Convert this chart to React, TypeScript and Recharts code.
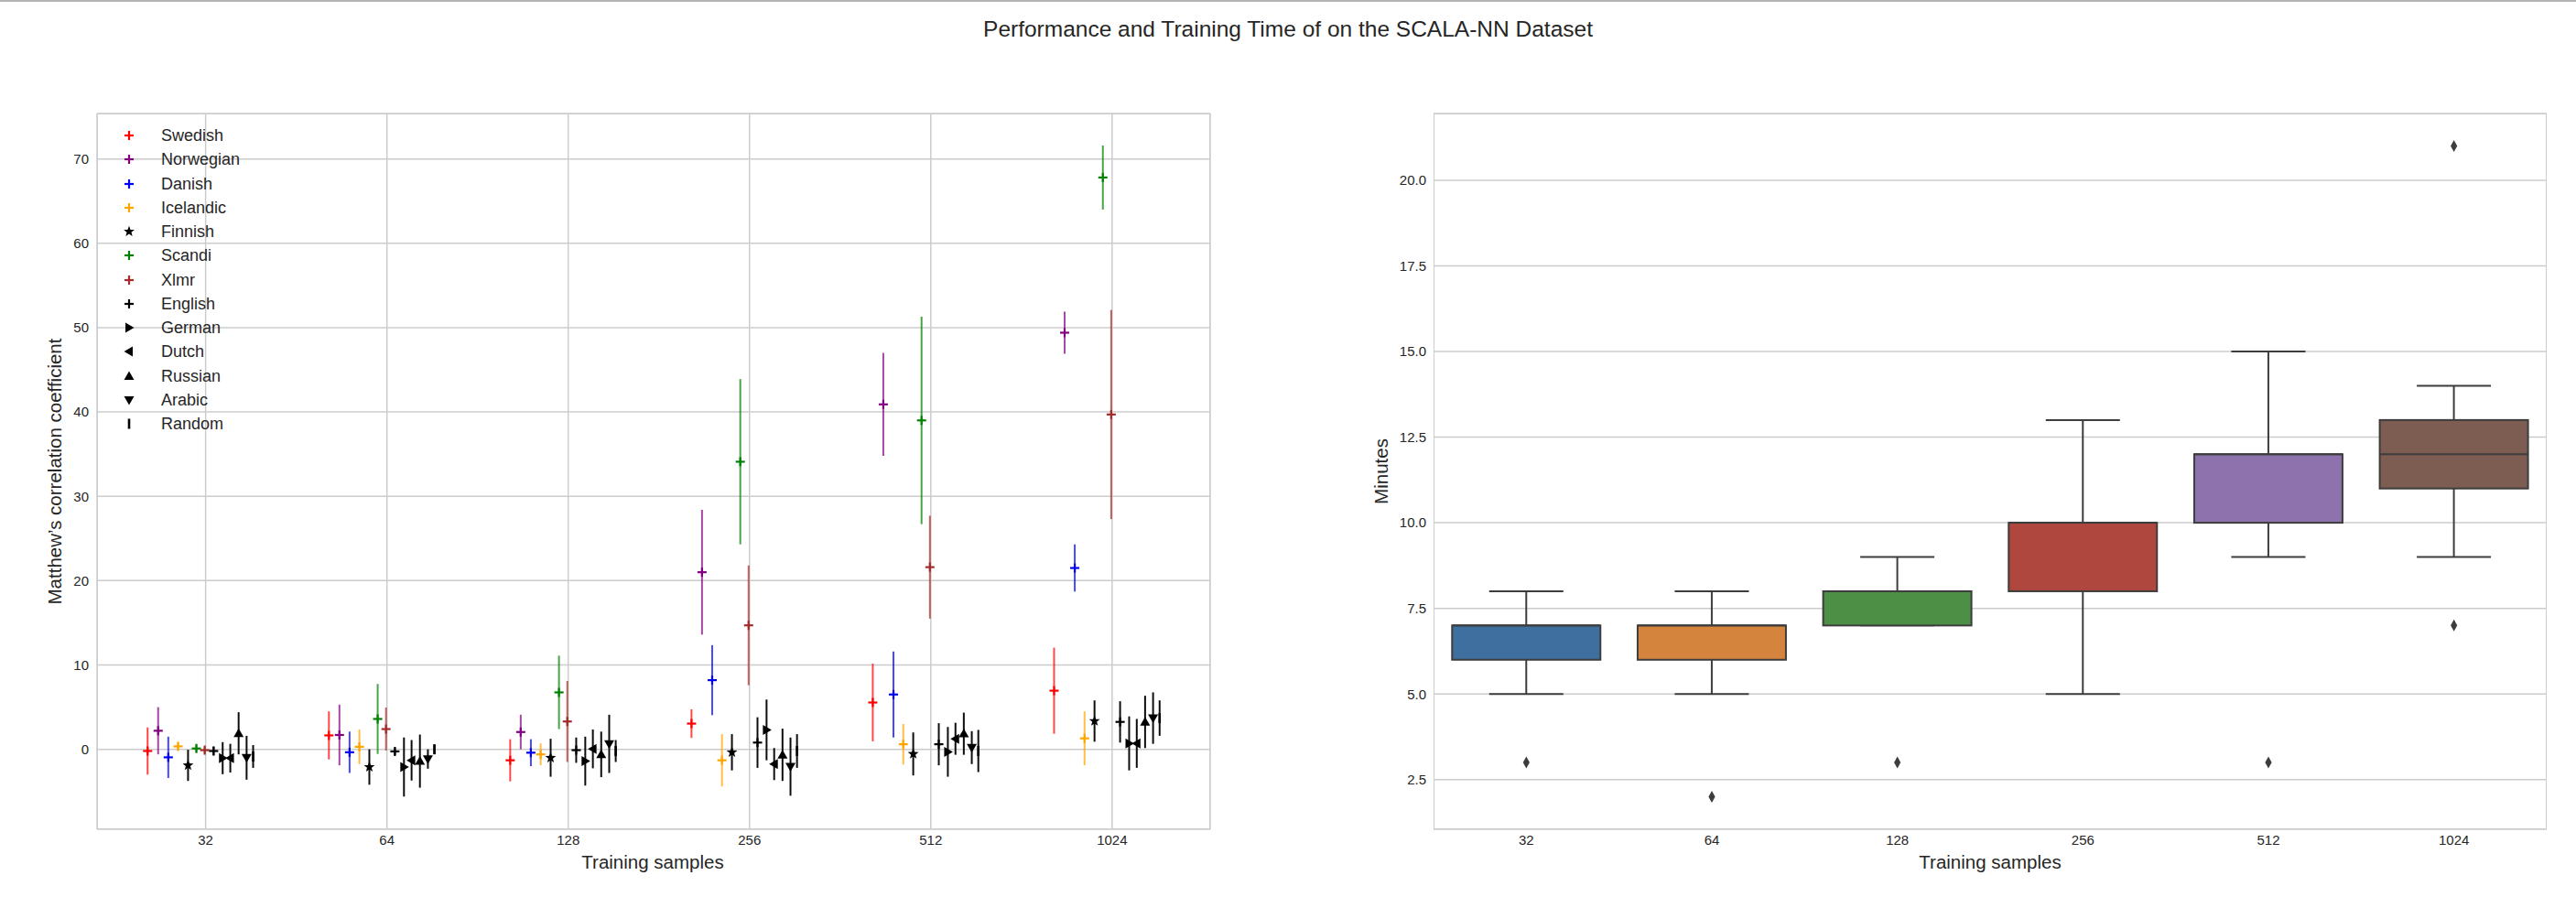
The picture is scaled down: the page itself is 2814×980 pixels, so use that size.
import React from 'react';
import {
  ScatterChart,
  Scatter,
  XAxis,
  YAxis,
  CartesianGrid,
  ErrorBar,
  ComposedChart,
  Bar,
  Line,
} from 'recharts';

// ---------- data ----------
const SAMPLES = ['32', '64', '128', '256', '512', '1024'];

const LANGUAGES = [
  'Swedish', 'Norwegian', 'Danish', 'Icelandic', 'Finnish', 'Scandi', 'Xlmr',
  'English', 'German', 'Dutch', 'Russian', 'Arabic', 'Random',
];

// mean Matthew's correlation coefficient per training-sample size
const SWEDISH = [-0.2, 1.65, -1.3, 3.05, 5.55, 6.95];
const NORWEGIAN = [2.2, 1.7, 2.05, 21.0, 40.9, 49.4];
const DANISH = [-0.95, -0.35, -0.4, 8.2, 6.5, 21.5];
const ICELANDIC = [0.35, 0.3, -0.6, -1.3, 0.6, 1.3];
const FINNISH = [-1.9, -2.1, -1.0, -0.35, -0.55, 3.35];
const SCANDI = [0.1, 3.6, 6.75, 34.1, 39.0, 67.8];
const XLMR = [-0.1, 2.4, 3.3, 14.7, 21.6, 39.7];
const ENGLISH = [-0.2, -0.25, -0.1, 0.8, 0.6, 3.25];
const GERMAN = [-1.05, -2.1, -1.4, 2.3, -0.3, 0.7];
const DUTCH = [-1.05, -1.3, 0.05, -1.75, 1.25, 0.7];
const RUSSIAN = [1.9, -1.4, -0.6, -0.65, 1.85, 3.25];
const ARABIC = [-1.0, -1.15, 0.65, -2.05, 0.2, 3.7];
const RANDOM = [-0.85, 0.0, -0.2, -0.2, -0.2, 3.7];

// error (standard deviation) per training-sample size
const SWEDISH_ERR = [2.8, 2.85, 2.5, 1.7, 4.6, 5.1];
const NORWEGIAN_ERR = [2.8, 3.6, 2.05, 7.4, 6.1, 2.5];
const DANISH_ERR = [2.45, 2.45, 1.6, 4.15, 5.1, 2.8];
const ICELANDIC_ERR = [0.45, 2.05, 1.3, 3.1, 2.4, 3.2];
const FINNISH_ERR = [1.85, 2.1, 2.25, 2.15, 2.55, 2.45];
const SCANDI_ERR = [0.4, 4.15, 4.35, 9.8, 12.3, 3.8];
const XLMR_ERR = [0.4, 2.55, 4.8, 7.1, 6.1, 12.4];
const ENGLISH_ERR = [0.5, 0.4, 1.5, 3.0, 2.5, 2.45];
const GERMAN_ERR = [1.9, 3.5, 2.9, 3.6, 2.95, 3.2];
const DUTCH_ERR = [1.7, 2.4, 2.3, 1.9, 1.9, 2.9];
const RUSSIAN_ERR = [2.5, 3.15, 2.7, 3.1, 2.5, 3.1];
const ARABIC_ERR = [2.6, 1.15, 3.45, 3.45, 1.95, 3.05];
const RANDOM_ERR = [1.35, 0.55, 1.3, 2.0, 2.5, 2.1];

const MEANS = [SWEDISH, NORWEGIAN, DANISH, ICELANDIC, FINNISH, SCANDI, XLMR, ENGLISH, GERMAN, DUTCH, RUSSIAN, ARABIC, RANDOM];
const ERRS = [SWEDISH_ERR, NORWEGIAN_ERR, DANISH_ERR, ICELANDIC_ERR, FINNISH_ERR, SCANDI_ERR, XLMR_ERR, ENGLISH_ERR, GERMAN_ERR, DUTCH_ERR, RUSSIAN_ERR, ARABIC_ERR, RANDOM_ERR];

// training time (minutes) box plot statistics
const WHISKER_LOW = [5, 5, 7, 5, 9, 9];
const Q1 = [6, 6, 7, 8, 10, 11];
const MEDIAN = [7, 7, 8, 10, 12, 12];
const Q3 = [7, 7, 8, 10, 12, 13];
const WHISKER_HIGH = [8, 8, 9, 13, 15, 14];
const OUTLIER_A = [3, 2, 3, null, 3, 7];
const OUTLIER_B = [null, null, null, null, null, 21];

const MCC_TICKS = [0, 10, 20, 30, 40, 50, 60, 70];
const MINUTE_TICKS = [2.5, 5, 7.5, 10, 12.5, 15, 17.5, 20];

// ---------- styles ----------
const FONT = '"Liberation Sans", Arial, Helvetica, sans-serif';
const TEXT = '#262626';
const GRID = '#cccccc';
const COLORS = ['#ff0000', '#800080', '#0000ff', '#ffa500', '#000000', '#008000', '#a52a2a', '#000000', '#000000', '#000000', '#000000', '#000000', '#000000'];
const MARKERS = ['plus', 'plus', 'plus', 'plus', 'star', 'plus', 'plus', 'plus', 'right', 'left', 'up', 'down', 'vline'];
const DODGE = [-0.32, -0.262, -0.206, -0.152, -0.097, -0.051, -0.005, 0.044, 0.094, 0.136, 0.182, 0.226, 0.262];
const BOX_COLORS = ['#3f6f9f', '#d5843e', '#4e8f46', '#b0473f', '#8d72ad', '#7d5c52'];
const BOX_EDGE = '#3d3d3d';

function starPath(cx: number, cy: number, R: number, r: number) {
  let d = '';
  for (let k = 0; k < 10; k++) {
    const rad = k % 2 === 0 ? R : r;
    const a = -Math.PI / 2 + (k * Math.PI) / 5;
    d += (k === 0 ? 'M' : 'L') + (cx + rad * Math.cos(a)).toFixed(2) + ',' + (cy + rad * Math.sin(a)).toFixed(2);
  }
  return d + 'Z';
}

function Marker({ kind, color, cx, cy }: { kind: string; color: string; cx: number; cy: number }) {
  if (cx == null || cy == null || isNaN(cx) || isNaN(cy)) return <g />;
  const s = 5;
  switch (kind) {
    case 'plus':
      return (
        <g stroke={color} strokeWidth={2.2}>
          <line x1={cx - s} x2={cx + s} y1={cy} y2={cy} />
          <line x1={cx} x2={cx} y1={cy - s} y2={cy + s} />
        </g>
      );
    case 'star':
      return <path d={starPath(cx, cy, 6.2, 2.6)} fill={color} />;
    case 'right':
      return <path d={`M${cx + 5.5},${cy}L${cx - 4},${cy - 5.5}L${cx - 4},${cy + 5.5}Z`} fill={color} />;
    case 'left':
      return <path d={`M${cx - 5.5},${cy}L${cx + 4},${cy - 5.5}L${cx + 4},${cy + 5.5}Z`} fill={color} />;
    case 'up':
      return <path d={`M${cx},${cy - 5.5}L${cx - 5.5},${cy + 4}L${cx + 5.5},${cy + 4}Z`} fill={color} />;
    case 'down':
      return <path d={`M${cx},${cy + 5.5}L${cx - 5.5},${cy - 4}L${cx + 5.5},${cy - 4}Z`} fill={color} />;
    case 'vline':
      return <line x1={cx} x2={cx} y1={cy - 5.5} y2={cy + 5.5} stroke={color} strokeWidth={2.6} />;
    default:
      return <g />;
  }
}

function BoxShape(props: any) {
  const { x, y, width, height, payload, index } = props;
  const lo = payload.lo;
  const hi = payload.hi;
  const py = (v: number) => y + (height * (hi - v)) / (hi - lo);
  const cx = x + width / 2;
  const capHalf = width / 4;
  const yQ1 = py(payload.q1);
  const yQ3 = py(payload.q3);
  const yMed = py(payload.med);
  const yLo = py(lo);
  const yHi = py(hi);
  return (
    <g stroke={BOX_EDGE} strokeWidth={2}>
      <line x1={cx} x2={cx} y1={yHi} y2={yQ3} />
      <line x1={cx} x2={cx} y1={yQ1} y2={yLo} />
      <line x1={cx - capHalf} x2={cx + capHalf} y1={yHi} y2={yHi} />
      <line x1={cx - capHalf} x2={cx + capHalf} y1={yLo} y2={yLo} />
      <rect x={x} y={yQ3} width={width} height={Math.max(yQ1 - yQ3, 0.5)} fill={BOX_COLORS[index]} />
      <line x1={x} x2={x + width} y1={yMed} y2={yMed} />
    </g>
  );
}

function Diamond(props: any) {
  const { cx, cy, value, index } = props;
  if (value == null || cy == null || isNaN(cy)) return <g key={`d-${index}`} />;
  return (
    <path
      key={`d-${index}`}
      d={`M${cx},${cy - 6.5}L${cx + 3.6},${cy}L${cx},${cy + 6.5}L${cx - 3.6},${cy}Z`}
      fill={BOX_EDGE}
    />
  );
}

const tickStyle = { fontSize: 15, fill: TEXT, fontFamily: FONT };

export default function App() {
  const series = LANGUAGES.map((name, i) => ({
    name,
    points: SAMPLES.map((_, g) => ({ x: g + DODGE[i], y: MEANS[i][g], e: ERRS[i][g] })),
  }));

  const boxData = SAMPLES.map((n, i) => ({
    n,
    span: [WHISKER_LOW[i], WHISKER_HIGH[i]],
    lo: WHISKER_LOW[i],
    q1: Q1[i],
    med: MEDIAN[i],
    q3: Q3[i],
    hi: WHISKER_HIGH[i],
    outA: OUTLIER_A[i],
    outB: OUTLIER_B[i],
  }));

  return (
    <div
      style={{
        position: 'absolute',
        left: 0,
        top: 0,
        width: 2814,
        height: 980,
        background: '#ffffff',
        fontFamily: FONT,
        color: TEXT,
        overflow: 'hidden',
      }}
    >
      <div style={{ position: 'absolute', left: 0, top: 0, width: 2814, height: 2, background: '#b4b4b4' }} />
      <div
        style={{
          position: 'absolute',
          left: 0,
          width: 2814,
          top: 18,
          textAlign: 'center',
          fontSize: 24.5,
          lineHeight: '28px',
        }}
      >
        Performance and Training Time of on the SCALA-NN Dataset
      </div>

      {/* ---------- left: MCC scatter with error bars ---------- */}
      <div style={{ position: 'absolute', left: 0, top: 0 }}>
        <ScatterChart width={1340} height={980} margin={{ top: 124, right: 18, bottom: 34, left: 46 }}>
          <CartesianGrid stroke={GRID} strokeWidth={1.5} />
          <XAxis
            type="number"
            dataKey="x"
            domain={[-0.599, 5.541]}
            ticks={[0, 1, 2, 3, 4, 5]}
            tickFormatter={(v: number) => SAMPLES[Math.round(v)]}
            allowDataOverflow
            interval={0}
            axisLine={false}
            tickLine={false}
            tickSize={0}
            tickMargin={6}
            height={40}
            tick={tickStyle}
          />
          <YAxis
            type="number"
            dataKey="y"
            domain={[-9.48, 75.39]}
            ticks={MCC_TICKS}
            allowDataOverflow
            interval={0}
            axisLine={false}
            tickLine={false}
            tickSize={0}
            tickMargin={9}
            width={60}
            tick={tickStyle}
          />
          {series.map((s, i) => (
            <Scatter
              key={s.name}
              name={s.name}
              data={s.points}
              isAnimationActive={false}
              shape={(p: any) => <Marker kind={MARKERS[i]} color={COLORS[i]} cx={p.cx} cy={p.cy} />}
            >
              <ErrorBar
                dataKey="e"
                direction="y"
                width={0}
                stroke={COLORS[i]}
                strokeWidth={2}
                strokeOpacity={COLORS[i] === '#000000' ? 0.95 : 0.72}
                isAnimationActive={false}
              />
            </Scatter>
          ))}
        </ScatterChart>
      </div>
      <div
        style={{
          position: 'absolute',
          left: 106,
          top: 124,
          width: 1216,
          height: 782,
          boxSizing: 'border-box',
          border: `1.5px solid ${GRID}`,
          pointerEvents: 'none',
        }}
      />
      {/* legend */}
      <div style={{ position: 'absolute', left: 128, top: 135 }}>
        {LANGUAGES.map((name, i) => (
          <div key={name} style={{ display: 'flex', alignItems: 'center', height: 26.25 }}>
            <svg width={26} height={26} style={{ display: 'block' }}>
              <Marker kind={MARKERS[i]} color={COLORS[i]} cx={13} cy={13} />
            </svg>
            <span style={{ marginLeft: 22, fontSize: 18, lineHeight: '26px' }}>{name}</span>
          </div>
        ))}
      </div>
      <div
        style={{
          position: 'absolute',
          left: 60 - 200,
          top: 515 - 12,
          width: 400,
          height: 24,
          lineHeight: '24px',
          textAlign: 'center',
          fontSize: 20.5,
          transform: 'rotate(-90deg)',
          transformOrigin: '200px 12px',
        }}
      >
        Matthew’s correlation coefficient
      </div>
      <div
        style={{
          position: 'absolute',
          left: 713 - 200,
          top: 942 - 12,
          width: 400,
          lineHeight: '24px',
          textAlign: 'center',
          fontSize: 20.5,
        }}
      >
        Training samples
      </div>

      {/* ---------- right: training time box plot ---------- */}
      <div style={{ position: 'absolute', left: 1440, top: 0 }}>
        <ComposedChart
          width={1374}
          height={980}
          data={boxData}
          margin={{ top: 124, right: 32, bottom: 34, left: 56 }}
          barCategoryGap="10%"
        >
          <CartesianGrid vertical={false} stroke={GRID} strokeWidth={1.5} />
          <XAxis
            dataKey="n"
            type="category"
            interval={0}
            axisLine={false}
            tickLine={false}
            tickSize={0}
            tickMargin={6}
            height={40}
            tick={tickStyle}
          />
          <YAxis
            type="number"
            domain={[1.05, 21.95]}
            ticks={MINUTE_TICKS}
            tickFormatter={(v: number) => v.toFixed(1)}
            allowDataOverflow
            interval={0}
            axisLine={false}
            tickLine={false}
            tickSize={0}
            tickMargin={8}
            width={70}
            tick={tickStyle}
          />
          <Bar dataKey="span" shape={BoxShape} isAnimationActive={false} />
          <Line dataKey="outA" stroke="none" dot={Diamond} activeDot={false} isAnimationActive={false} legendType="none" />
          <Line dataKey="outB" stroke="none" dot={Diamond} activeDot={false} isAnimationActive={false} legendType="none" />
        </ComposedChart>
      </div>
      <div
        style={{
          position: 'absolute',
          left: 1566,
          top: 124,
          width: 1216,
          height: 782,
          boxSizing: 'border-box',
          border: `1.5px solid ${GRID}`,
          pointerEvents: 'none',
        }}
      />
      <div
        style={{
          position: 'absolute',
          left: 1509 - 200,
          top: 515 - 12,
          width: 400,
          height: 24,
          lineHeight: '24px',
          textAlign: 'center',
          fontSize: 20.5,
          transform: 'rotate(-90deg)',
          transformOrigin: '200px 12px',
        }}
      >
        Minutes
      </div>
      <div
        style={{
          position: 'absolute',
          left: 2174 - 200,
          top: 942 - 12,
          width: 400,
          lineHeight: '24px',
          textAlign: 'center',
          fontSize: 20.5,
        }}
      >
        Training samples
      </div>
    </div>
  );
}
